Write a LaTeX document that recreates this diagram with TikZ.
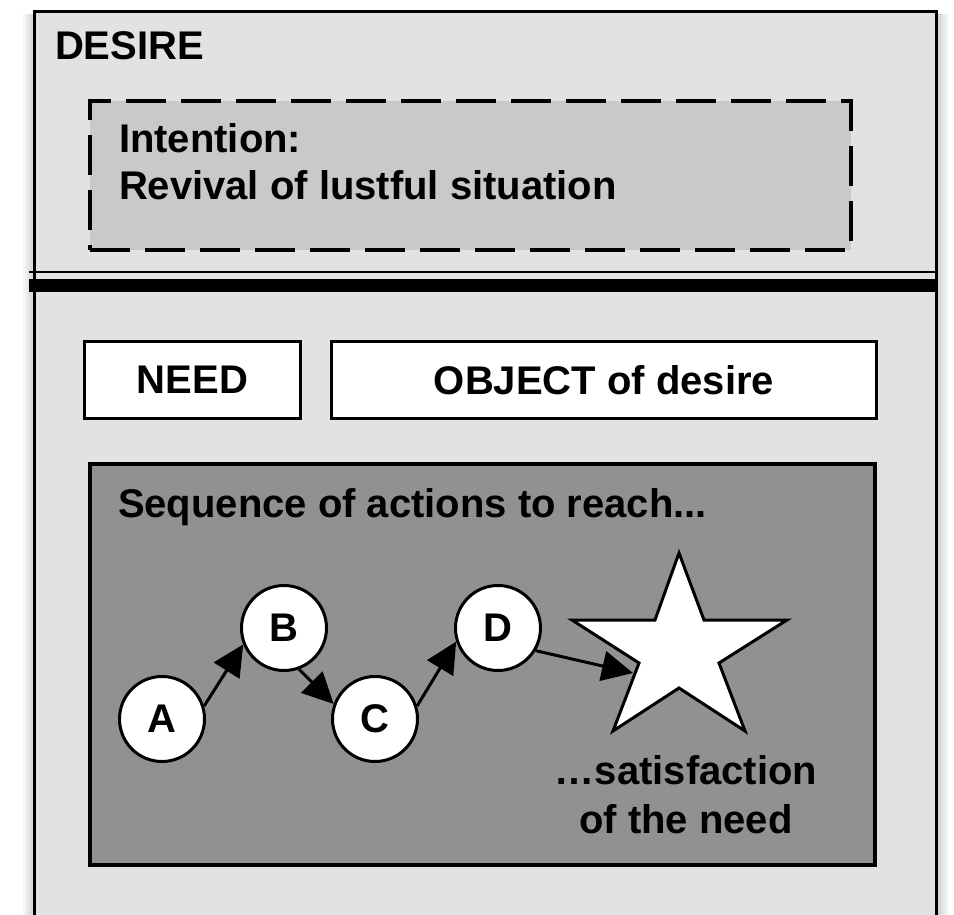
\documentclass[tikz,border=0pt]{standalone}
\usepackage{fontspec}
\setmainfont{Liberation Sans}
\usetikzlibrary{arrows.meta}

\definecolor{panelgray}{HTML}{E2E2E2}
\definecolor{intentgray}{HTML}{C9C9C9}
\definecolor{seqgray}{HTML}{919191}

\begin{document}
\begin{tikzpicture}[x=1pt,y=-1pt,
  lbl/.style={font=\fontsize{40}{47}\selectfont\bfseries, inner sep=0pt, outer sep=0pt},
  whitebox/.style={draw=black, line width=3pt, fill=white, rectangle,
    inner sep=0pt, font=\fontsize{40}{47}\selectfont\bfseries},
  seqpanel/.style={draw=black, line width=4pt, fill=seqgray, rectangle, inner sep=0pt},
  intentbox/.style={draw=black, line width=4.5pt, fill=intentgray, rectangle,
    dash pattern=on 40pt off 15pt, inner sep=0pt},
  actnode/.style={draw=black, line width=3pt, fill=white, circle, inner sep=0pt,
    minimum size=85pt, font=\fontsize{40}{47}\selectfont\bfseries},
  goalstar/.style={draw=black, line width=3pt, fill=white, line join=miter},
  flow/.style={line width=3pt, -{Triangle[length=31pt,width=30pt]}},
]
\useasboundingbox (0,0) rectangle (954,915);
\clip (0,0) rectangle (954,915);
\fill[white] (0,0) rectangle (954,915);

% soft shadow along the sides of the outer panel
\foreach \i in {1,...,6}
  \fill[black, opacity=0.03] (34.5-2*\i, 14) rectangle (936.5+2*\i, 930);

% outer DESIRE panel (open at the bottom)
\fill[panelgray] (34.5,11.5) rectangle (936.5,930);
\draw[line width=3pt] (34.5,930) -- (34.5,11.5) -- (936.5,11.5) -- (936.5,930);

% separator: thin line above a heavy bar
\draw[line width=2.5pt] (29,272) -- (938,272);
\draw[line width=13pt] (29,285.5) -- (938,285.5);

\node[lbl, anchor=base west] (desire) at (55,60) {DESIRE};

% intention box
\node[intentbox, minimum width=761pt, minimum height=149pt] (intent) at (470.5,175.5) {};
\node[lbl, anchor=base west] (intenthead) at (119,153) {Intention:};
\node[lbl, anchor=base west] (intenttext) at (119,200) {Revival of lustful situation};

% need and object
\node[whitebox, minimum width=216pt, minimum height=77pt] (need) at (192.5,380) {NEED};
\node[whitebox, minimum width=545pt, minimum height=77pt] (object) at (604,380) {OBJECT of desire};

% sequence panel
\node[seqpanel, minimum width=785pt, minimum height=401pt] (seq) at (482.5,664.5) {};
\node[lbl, anchor=base west] (seqtext) at (118,517) {Sequence of actions to reach...};

% actions
\node[actnode] (A) at (162,719) {A};
\node[actnode] (B) at (284,628) {B};
\node[actnode] (C) at (375,719) {C};
\node[actnode] (D) at (498,628) {D};

% goal star
\draw[goalstar] (679,553) -- (704,620) -- (787,620) -- (719,663) -- (745,731)
  -- (679,688) -- (613,731) -- (639,663) -- (572,620) -- (655,620) -- cycle;
\coordinate (goal) at (633,673);

\draw[flow] (A.17) -- (B.202);
\draw[flow] (B.290) -- (C.160);
\draw[flow] (C.17) -- (D.198);
\draw[flow] (D.-31) -- (goal);

\node[lbl, anchor=base] (sat1) at (686,784) {…satisfaction};
\node[lbl, anchor=base] (sat2) at (686,833) {of the need};
\end{tikzpicture}
\end{document}
